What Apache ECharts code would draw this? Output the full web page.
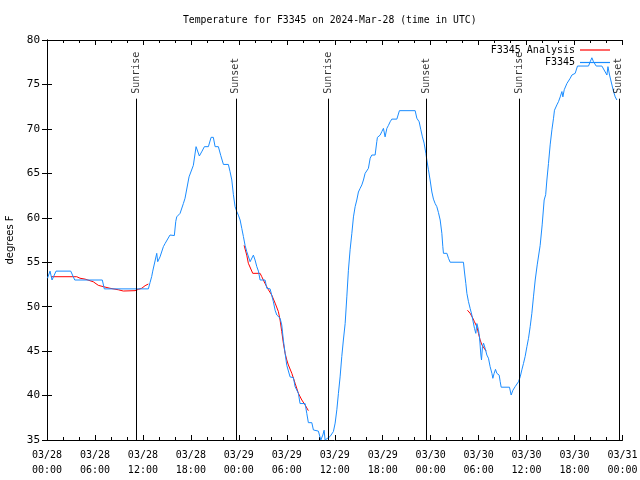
<!DOCTYPE html>
<html>
<head>
<meta charset="utf-8">
<script src="https://cdn.jsdelivr.net/npm/echarts@6/dist/echarts.min.js"></script>
<style>
html,body{margin:0;padding:0;background:#fff;}
#chart{width:640px;height:480px;}
</style>
</head>
<body>
<div id="chart"></div>
<script>
// Hours since 2024-03-28 00:00 UTC
const blueHours = [0.06,0.16,0.38,0.63,0.88,1.13,2.97,3.47,6.92,7.17,12.68,12.89,13.1,13.23,13.43,13.73,13.85,14.14,14.56,14.77,15.39,15.93,16.11,16.23,16.65,17.06,17.27,17.77,18.31,18.65,19.06,19.4,19.69,20.19,20.53,20.81,21.03,21.44,21.74,22.07,22.69,22.9,23.12,23.32,23.53,23.74,23.94,24.16,24.37,24.57,24.78,24.99,25.19,25.41,25.62,25.82,26.03,26.25,26.45,26.66,27.28,27.5,27.91,28.32,28.54,28.75,29.16,29.37,29.57,29.79,30.0,30.41,30.83,31.04,31.45,31.66,32.29,32.5,32.7,33.13,33.33,33.95,34.26,34.51,34.67,34.79,35.04,35.42,35.83,36.05,36.26,36.46,36.67,36.88,37.08,37.3,37.51,37.71,37.92,38.14,38.34,38.55,38.76,38.96,39.17,39.39,39.59,39.8,40.01,40.21,40.43,40.64,41.05,41.26,41.34,41.68,41.89,42.09,42.3,42.52,42.72,42.93,43.14,43.77,44.09,46.06,46.27,46.56,46.77,46.97,47.18,47.4,47.52,47.72,47.93,48.15,48.35,48.56,48.77,48.97,49.19,49.4,49.52,49.6,50.03,50.23,50.44,52.1,52.23,52.4,52.53,52.73,52.94,53.15,53.35,53.48,53.65,53.78,53.98,54.11,54.28,54.36,54.48,54.61,54.82,55.03,55.23,55.44,55.66,55.78,55.94,56.11,56.28,56.57,56.7,56.82,57.86,58.07,58.29,58.57,58.79,58.99,59.2,59.41,59.61,59.82,60.04,60.24,60.45,60.66,60.86,61.08,61.33,61.7,61.95,62.2,62.39,62.54,62.74,62.95,63.17,63.37,63.49,63.7,63.79,63.99,64.21,64.42,64.54,64.71,64.92,65.04,65.24,65.46,65.67,66.08,66.37,67.75,67.96,68.17,68.37,68.71,69.42,69.84,70.05,70.18,70.38,70.68,70.88,71.09,71.3];
const blueTemps = [53.2,53,54,53,53,54,54,53,53,52,52,52.7,53.4,54,54.1,56,55.06,55.6,56.75,57.1,58.06,58,59.6,60.1,60.5,61.6,62.2,64.6,65.9,68,66.95,67.5,68,68,69.05,69.05,68,68,67,66,66,65.2,64.25,62.6,61.25,60.7,60.3,59.75,58.8,57.9,56.9,56.2,56,55.06,55.06,55.8,55.25,54.5,54,53,53,52.07,52,50.56,49.6,49.06,48.7,47.94,46.25,44.75,43.4,42.1,42,41,40.25,39.1,39.1,38,36.95,36.95,36.13,36,35,35.56,36.1,35,35.1,35.4,35.95,36.9,38.4,40.25,42.1,44.4,46.25,48.1,51.1,54.1,56.4,58.25,60.1,61.25,62,62.9,63.3,63.7,64.25,65,65,65.56,66.7,67.06,67.06,68.56,69.05,69.3,69.7,70.06,69.1,70.06,70.4,70.8,71.1,71.1,72.05,72.05,71.2,70.8,69.9,69.1,68.4,67.25,66.5,65.4,64.25,62.9,62.1,61.6,61.25,60.6,59.75,58.25,56.75,56,56,55.44,55,55,53.9,52.6,51.5,50.56,49.8,49.06,49.06,47.56,47,48.1,47.4,46.6,44.56,44,45.5,45.9,45.3,44.56,44.2,43.25,42.5,41.94,42.5,42.95,42.5,42.3,41.56,40.94,40.94,40.06,40.6,41,41.2,41.56,42.1,42.9,43.6,44.4,45.5,46.44,47.75,49.25,51.1,53,54.7,56.9,59.2,62,62.6,64.25,66.1,68.2,69.9,71.2,72.1,72.1,72.7,73.06,73.6,74.2,73.6,74.4,74.56,75.1,75.3,75.7,76.06,76.25,77.07,77.07,77.56,78,77.56,77.07,77.07,76.4,76.06,77,76.06,74.94,74.2,73.6,73.25];

const redHours = [0.5,3.72,4.13,4.76,5.79,6.42,7.05,7.88,8.92,9.55,11.01,11.43,11.85,12.27,12.68,18,24.66,24.99,25.19,25.74,26.66,26.87,27.28,27.7,28.12,28.54,28.95,29.16,29.37,29.57,29.79,30.0,30.2,30.63,31.04,31.45,31.88,32.29,32.7,40,52.6,52.94,53.28,53.48,53.78,53.98,54.19,54.41,54.61,54.94];
const redTemps = [53.37,53.37,53.2,53.1,52.8,52.4,52.25,52.07,51.9,51.76,51.8,51.95,52.07,52.36,52.55,null,56.9,55.8,54.88,53.75,53.75,53.37,52.6,51.9,51.3,50.4,49.44,48.5,47.2,45.9,44.75,44,43.44,42.5,41.38,40.25,39.5,38.94,38.3,null,49.6,49.25,48.7,48.3,47.75,47,46.25,45.7,45.5,45];

const eventHours = [11.18, 23.63, 35.23, 47.5, 59.14, 71.54];
const eventNames = ['Sunrise','Sunset','Sunrise','Sunset','Sunrise','Sunset'];

const yTicks = [35,40,45,50,55,60,65,70,75,80];

const mono = 'DejaVu Sans Mono';
const chart = echarts.init(document.getElementById('chart'));

const blueData = blueHours.map((h,i)=>[h, blueTemps[i]]);
const redData = redHours.map((h,i)=>[h, redTemps[i]]);
const eventData = eventHours.map((h,i)=>[h, 73.95, eventNames[i]]);
const eventLines = eventHours.map(h=>[{coord:[h, yTicks[0]]},{coord:[h, 73.4]}]);

function xLabel(v){
  const day = 28 + Math.floor(v/24);
  const hr = Math.round(v % 24);
  return '03/' + String(day).padStart(2,'0') + '\n' + String(hr).padStart(2,'0') + ':00';
}

const axisCommon = {
  axisLine:{show:true, lineStyle:{color:'#000', width:1}},
  axisTick:{show:true, inside:true, length:5, lineStyle:{color:'#000'}},
  splitLine:{show:false}
};

chart.setOption({
  animation:false,
  backgroundColor:'#fff',
  title:{
    text:'Temperature for F3345 on 2024-Mar-28 (time in UTC)',
    left:183, top:15, padding:0,
    textStyle:{fontFamily:mono, fontSize:9.75, fontWeight:'normal', color:'#000'}
  },
  legend:{
    orient:'vertical', right:30, top:45, align:'right', padding:0,
    itemWidth:30, itemHeight:1.2, itemGap:2.5,
    icon:'rect',
    data:['F3345 Analysis','F3345'],
    textStyle:{fontFamily:mono, fontSize:10, color:'#000'}
  },
  grid:{left:47, right:17.5, top:40, bottom:40, outerBoundsMode:'none', containLabel:false},
  xAxis:[
    Object.assign({type:'value', min:0, max:72, interval:6, position:'bottom',
      minorTick:{show:true, splitNumber:3, length:3, lineStyle:{color:'#000'}},
      axisLabel:{formatter:xLabel, fontFamily:mono, fontSize:10, color:'#000', lineHeight:15, margin:8}
    }, axisCommon),
    Object.assign({type:'value', min:0, max:72, interval:6, position:'top',
      minorTick:{show:true, splitNumber:3, length:3, lineStyle:{color:'#000'}},
      axisLabel:{show:false}
    }, axisCommon)
  ],
  yAxis:[
    Object.assign({type:'value', min:yTicks[0], max:yTicks[yTicks.length-1], interval:5, position:'left',
      name:'degrees F', nameLocation:'middle', nameGap:31, nameRotate:90,
      nameTextStyle:{fontFamily:'DejaVu Sans', fontSize:10, color:'#000'},
      axisLabel:{fontFamily:mono, fontSize:11, color:'#000', margin:7}
    }, axisCommon),
    Object.assign({type:'value', min:yTicks[0], max:yTicks[yTicks.length-1], interval:5, position:'right',
      axisLabel:{show:false}
    }, axisCommon)
  ],
  series:[
    {
      name:'F3345 Analysis', type:'line', data:redData, showSymbol:false, symbol:'none',
      connectNulls:false, lineStyle:{color:'#ff0000', width:1}, itemStyle:{color:'#ff0000'}, z:2
    },
    {
      name:'F3345', type:'line', data:blueData, showSymbol:false, symbol:'none',
      lineStyle:{color:'#1a8cff', width:1}, itemStyle:{color:'#1a8cff'}, z:3
    },
    {
      name:'events', type:'scatter', data:eventData, symbolSize:1,
      itemStyle:{color:'rgba(0,0,0,0)'},
      label:{show:true, formatter:p=>p.data[2], position:'inside', rotate:90,
        align:'left', verticalAlign:'middle', fontFamily:mono, fontSize:10, color:'#000'},
      markLine:{silent:true, symbol:['none','none'], label:{show:false},
        lineStyle:{color:'#000', width:1, type:'solid'}, data:eventLines},
      z:4
    }
  ]
});
</script>
</body>
</html>
